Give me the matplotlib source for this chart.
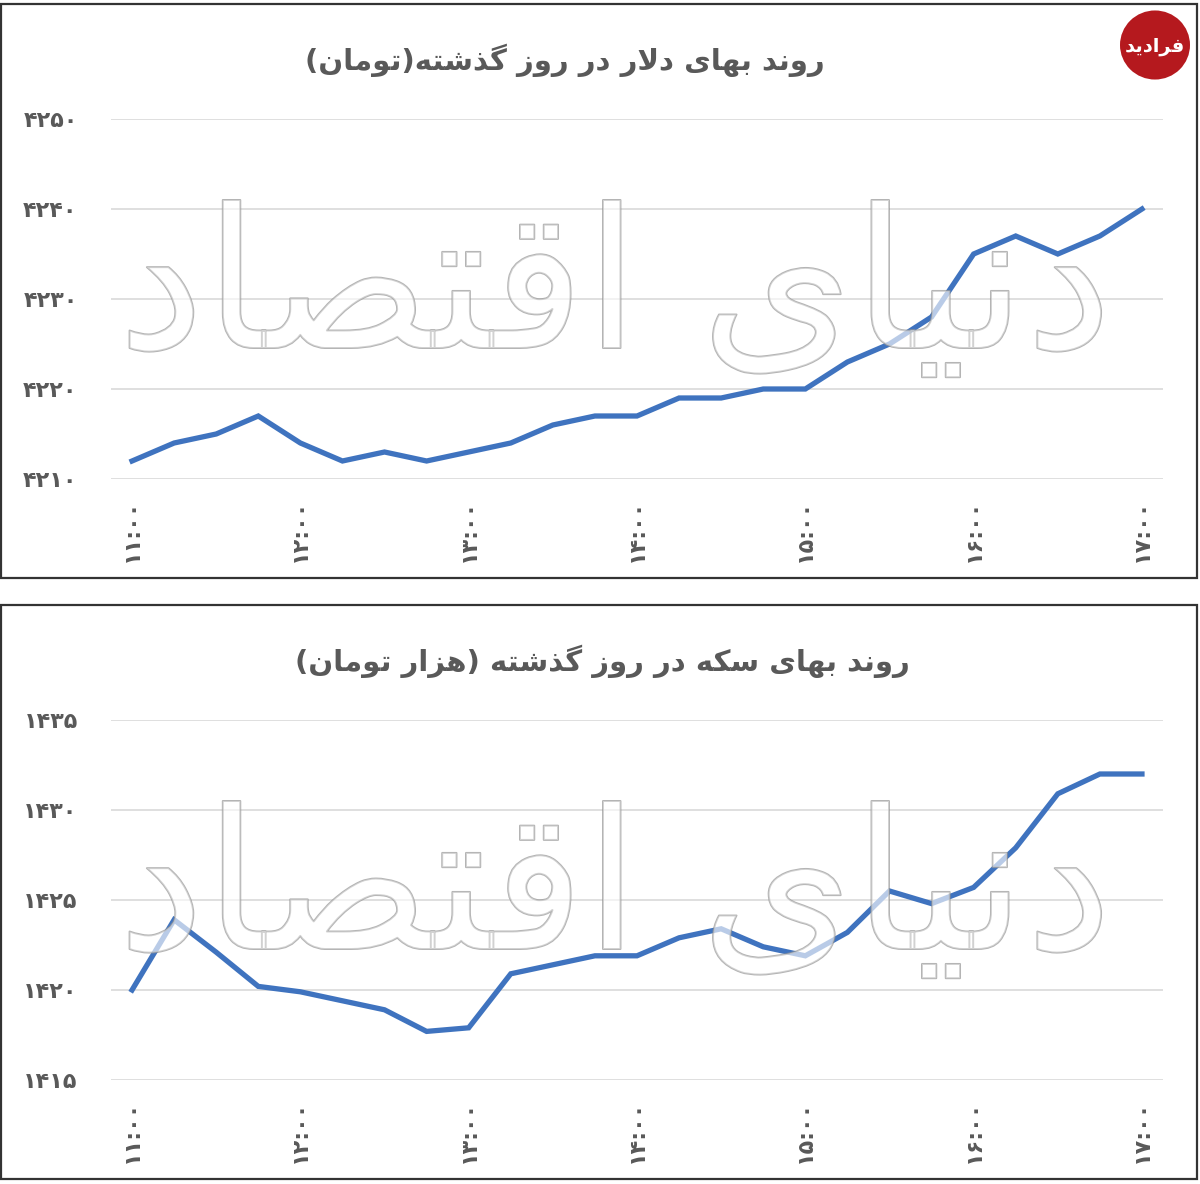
import matplotlib
matplotlib.use("Agg")
import matplotlib.patheffects as pe
import matplotlib.pyplot as plt
from matplotlib.patches import Circle, Rectangle

# --- data -------------------------------------------------------------
hour_labels = ["11:00", "12:00", "13:00", "14:00", "15:00", "16:00", "17:00"]

dollar = [4212, 4214, 4215, 4217, 4214, 4212, 4213, 4212, 4213, 4214, 4216, 4217, 4217,
          4219, 4219, 4220, 4220, 4223, 4225, 4228, 4235, 4237, 4235, 4237, 4240]
coin = [1420, 1423.9, 1422.1, 1420.2, 1419.9, 1419.4, 1418.9, 1417.7, 1417.9, 1420.9, 1421.4,
        1421.9, 1421.9, 1422.9, 1423.4, 1422.4, 1421.9, 1423.2, 1425.5, 1424.8, 1425.7,
        1427.9, 1430.9, 1432, 1432]

dollar_ticks = [4210, 4220, 4230, 4240, 4250]
coin_ticks = [1415, 1420, 1425, 1430, 1435]

title_dollar = "روند بهای دلار در روز گذشته(تومان)"
title_coin = "روند بهای سکه در روز گذشته (هزار تومان)"
watermark = "دنیای اقتصاد"
logo = "فرادید"

LINE = "#3F73BF"
GREY = "#595959"
W, H = 1200, 1184

# --- minimal persian shaping (matplotlib has no bidi / joining) --------
FORMS = {  # isolated, final, initial, medial
    "ا": (0xFE8D, 0xFE8E, None, None),
    "ب": (0xFE8F, 0xFE90, 0xFE91, 0xFE92),
    "ت": (0xFE95, 0xFE96, 0xFE97, 0xFE98),
    "د": (0xFEA9, 0xFEAA, None, None),
    "ذ": (0xFEAB, 0xFEAC, None, None),
    "ر": (0xFEAD, 0xFEAE, None, None),
    "ز": (0xFEAF, 0xFEB0, None, None),
    "س": (0xFEB1, 0xFEB2, 0xFEB3, 0xFEB4),
    "ش": (0xFEB5, 0xFEB6, 0xFEB7, 0xFEB8),
    "ص": (0xFEB9, 0xFEBA, 0xFEBB, 0xFEBC),
    "ف": (0xFED1, 0xFED2, 0xFED3, 0xFED4),
    "ق": (0xFED5, 0xFED6, 0xFED7, 0xFED8),
    "ل": (0xFEDD, 0xFEDE, 0xFEDF, 0xFEE0),
    "م": (0xFEE1, 0xFEE2, 0xFEE3, 0xFEE4),
    "ن": (0xFEE5, 0xFEE6, 0xFEE7, 0xFEE8),
    "ه": (0xFEE9, 0xFEEA, 0xFEEB, 0xFEEC),
    "و": (0xFEED, 0xFEEE, None, None),
    "ک": (0xFB8E, 0xFB8F, 0xFB90, 0xFB91),
    "گ": (0xFB92, 0xFB93, 0xFB94, 0xFB95),
    "ی": (0xFBFC, 0xFBFD, 0xFBFE, 0xFBFF),
}


def dual(c):
    return c in FORMS and FORMS[c][2] is not None


def shape(s):
    out = []
    i = 0
    while i < len(s):
        c = s[i]
        prev = s[i - 1] if i > 0 else ""
        nxt = s[i + 1] if i + 1 < len(s) else ""
        if c not in FORMS:
            out.append(c)
            i += 1
            continue
        jp = dual(prev)
        if c == "ل" and nxt == "ا":
            out.append(chr(0xFEFC if jp else 0xFEFB))
            i += 2
            continue
        jn = dual(c) and nxt in FORMS
        f = FORMS[c]
        if jp and jn:
            code = f[3]
        elif jp:
            code = f[1]
        elif jn:
            code = f[2]
        else:
            code = f[0]
        out.append(chr(code))
        i += 1
    vis = "".join(reversed(out))
    return vis.translate(str.maketrans("()", ")("))


def fa_digits(s):
    return str(s).translate(str.maketrans("0123456789", "۰۱۲۳۴۵۶۷۸۹"))


fig = plt.figure(figsize=(W / 100, H / 100), dpi=100)
marks = []
WM_SIZE = 150


def panel(top_px, values, ticks, title, title_x):
    # top_px: pixel offset of this panel's frame
    ax = fig.add_axes([111 / W, 1 - (top_px + 477) / H, 1052 / W, 360 / H])
    x = list(range(len(values)))
    ax.plot(x, values, color=LINE, lw=3.8, solid_joinstyle="miter", zorder=3)
    ax.set_xlim(-0.5, len(values) - 0.5)
    ax.set_ylim(ticks[0], ticks[-1])
    ax.set_yticks(ticks, [fa_digits(t) for t in ticks])
    ax.set_xticks(range(0, len(values), 4), [fa_digits(h) for h in hour_labels],
                  rotation=90)
    ax.grid(axis="y", color="#D9D9D9", lw=1.2)
    ax.set_axisbelow(True)
    for sp in ax.spines.values():
        sp.set_visible(False)
    ax.tick_params(length=0, colors=GREY, labelsize=16)
    ax.tick_params(axis="y", pad=24)
    ax.tick_params(axis="x", pad=14)
    for lab in ax.get_xticklabels() + ax.get_yticklabels():
        lab.set_fontweight("bold")

    fig.add_artist(Rectangle((1 / W, 1 - (top_px + 576) / H), 1196 / W, 574 / H,
                             transform=fig.transFigure, fill=False,
                             edgecolor="#333333", lw=1.6))
    fig.text(title_x / W, 1 - (top_px + 58) / H, shape(title), ha="center", va="center",
             fontsize=21, fontweight="bold", color=GREY, family="DejaVu Sans")

    # faint outlined watermark laid over the plot area
    wm = fig.text(615 / W, 1 - (top_px + 292) / H, shape(watermark), ha="center",
                  va="center", fontsize=WM_SIZE, color=(1, 1, 1, 0.4),
                  family="DejaVu Sans", zorder=5,
                  path_effects=[pe.Stroke(linewidth=1.4,
                                          foreground=(0.58, 0.58, 0.58, 0.7)),
                                pe.Normal()])
    marks.append(wm)
    return ax


panel(2, dollar, dollar_ticks, title_dollar, 565)
panel(603, coin, coin_ticks, title_coin, 602)

# size the watermark to span the plot width
fig.canvas.draw()
scale = 995 / marks[0].get_window_extent().width
for wm in marks:
    wm.set_fontsize(WM_SIZE * scale)

# logo, top right
fig.add_artist(Circle((1155 / W, 1 - 45 / H), 35 / W, transform=fig.transFigure,
                      facecolor="#B5191E", edgecolor="none", zorder=6))
fig.text(1155 / W, 1 - 47 / H, shape(logo), ha="center", va="center", color="white",
         fontsize=14, fontweight="bold", family="DejaVu Sans", zorder=7)

fig.savefig("out.png", dpi=100, facecolor="white")
